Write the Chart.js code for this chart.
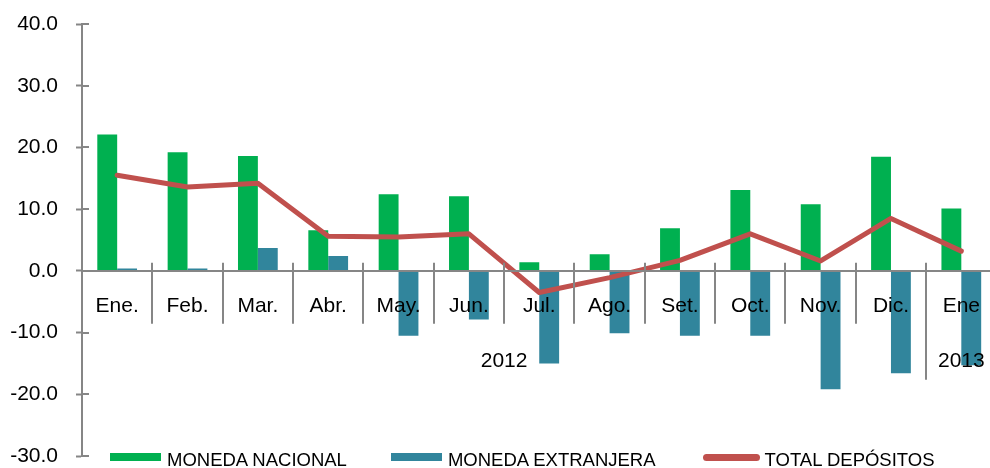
<!DOCTYPE html>
<html>
<head>
<meta charset="utf-8">
<script src="https://cdn.jsdelivr.net/npm/chart.js@4.4.1/dist/chart.umd.min.js"></script>
<style>
  html, body { margin: 0; padding: 0; background: #fff; overflow: hidden; }
  #wrap { position: relative; width: 990px; height: 468px; overflow: hidden; }
  #chart { position: absolute; left: 0; top: 0; }
  #legend {
    position: absolute; left: 110px; top: 450px; display: flex;
    font-family: Arial, "Liberation Sans", sans-serif; font-size: 18.5px; line-height: 20px; color: #000;
  }
  .item { display: flex; align-items: flex-start; margin-right: 44px; white-space: nowrap; }
  .item:nth-child(2) { margin-right: 47px; }
  .swatch { width: 51px; height: 8px; margin-top: 3px; margin-right: 6px; }
  .swatch.line { width: 57px; height: 7px; margin-top: 4px; margin-right: 5px; border-radius: 4px; }
</style>
</head>
<body>
<div id="wrap">
  <canvas id="chart" width="1003" height="468"></canvas>
  <div id="legend"></div>
</div>
<script>
// Depósitos: variación por mes (2012 - Ene 2013)
const months = ["Ene.", "Feb.", "Mar.", "Abr.", "May.", "Jun.", "Jul.", "Ago.", "Set.", "Oct.", "Nov.", "Dic.", "Ene"];
const monedaNacional = [22.1, 19.2, 18.6, 6.6, 12.4, 12.1, 1.4, 2.7, 6.9, 13.1, 10.8, 18.5, 10.1];
const monedaExtranjera = [0.4, 0.4, 3.7, 2.4, -10.5, -7.9, -15.0, -10.1, -10.5, -10.5, -19.2, -16.6, -15.3];
const totalDepositos = [15.5, 13.6, 14.2, 5.6, 5.5, 6.0, -3.5, -1.1, 1.7, 6.0, 1.6, 8.5, 3.2];
const yearLabels = ["2012", "2013"];
const yearSpans = [12, 1];

const FONT = "Arial, 'Liberation Sans', sans-serif";
const GRAY = "#868686";

// separators under the zero line, year labels, inner y ticks
const axisMarks = {
    id: "axisMarks",
    afterDraw(chart) {
        const ctx = chart.ctx;
        const x = chart.scales.x;
        const y = chart.scales.y;
        const y0 = y.getPixelForValue(0);
        ctx.save();
        ctx.strokeStyle = GRAY;
        ctx.lineWidth = 2;

        // y ticks go a bit into the plot too
        y.ticks.forEach(t => {
            const py = Math.round(y.getPixelForValue(t.value));
            ctx.beginPath();
            ctx.moveTo(x.left, py);
            ctx.lineTo(x.left + 7, py);
            ctx.stroke();
        });

        const yearEnds = [];
        let acc = 0;
        yearSpans.forEach(s => { acc += s; yearEnds.push(acc); });

        for (let i = 1; i < months.length; i++) {
            const bx = Math.round(x.getPixelForValue(i - 0.5));
            const longOne = yearEnds.includes(i);
            ctx.beginPath();
            ctx.moveTo(bx, y0 - 8);
            ctx.lineTo(bx, y0 + (longOne ? 109 : 53));
            ctx.stroke();
        }

        ctx.fillStyle = "#000";
        ctx.font = "21px " + FONT;
        ctx.textAlign = "center";
        ctx.textBaseline = "middle";
        let start = 0;
        yearLabels.forEach((label, k) => {
            const end = start + yearSpans[k] - 1;
            const cx = (x.getPixelForValue(start) + x.getPixelForValue(end)) / 2;
            ctx.fillText(label, cx, y0 + 90);
            start = end + 1;
        });
        ctx.restore();
    }
};

const chart = new Chart(document.getElementById("chart"), {
    data: {
        labels: months,
        datasets: [
            {
                type: "line",
                label: "TOTAL DEPÓSITOS",
                data: totalDepositos,
                borderColor: "#C0504D",
                backgroundColor: "#C0504D",
                borderWidth: 5,
                pointRadius: 0,
                tension: 0,
                borderJoinStyle: "round",
                borderCapStyle: "round",
                order: 0
            },
            {
                type: "bar",
                label: "MONEDA NACIONAL",
                data: monedaNacional,
                backgroundColor: "#00B050",
                categoryPercentage: 0.565,
                barPercentage: 1,
                order: 1
            },
            {
                type: "bar",
                label: "MONEDA EXTRANJERA",
                data: monedaExtranjera,
                backgroundColor: "#31859C",
                categoryPercentage: 0.565,
                barPercentage: 1,
                order: 2
            }
        ]
    },
    options: {
        responsive: false,
        animation: false,
        devicePixelRatio: 1,
        layout: { padding: { top: 24, bottom: 12, left: 0, right: 0 } },
        plugins: {
            legend: { display: false },
            tooltip: { enabled: false }
        },
        scales: {
            x: {
                position: { y: 0 },
                offset: true,
                afterFit: s => { s.height = 0; },
                border: { display: true, color: GRAY, width: 2, z: 1 },
                grid: { display: false, drawTicks: false },
                ticks: {
                    z: 1,
                    font: { size: 21, family: FONT },
                    color: "#000",
                    padding: 23,
                    maxRotation: 0,
                    autoSkip: false
                }
            },
            y: {
                min: -30,
                max: 40,
                afterFit: s => {
                    s.width = 82;
                    // label padding should not push the plot down
                    s.paddingTop = 0;
                    s.paddingBottom = 0;
                },
                border: { display: true, color: GRAY, width: 2 },
                grid: { drawOnChartArea: false, drawTicks: true, tickLength: 6, tickColor: GRAY, tickWidth: 2 },
                ticks: {
                    stepSize: 10,
                    font: { size: 21, family: FONT },
                    color: "#000",
                    padding: 18,
                    callback: v => v.toFixed(1)
                }
            }
        }
    },
    plugins: [axisMarks]
});

// legend in html so it can sit over the bottom of the plot like in the original
const legendEl = document.getElementById("legend");
[1, 2, 0].forEach(i => {
    const ds = chart.data.datasets[i];
    const item = document.createElement("div");
    item.className = "item";
    const sw = document.createElement("div");
    sw.className = "swatch" + (ds.type === "line" ? " line" : "");
    sw.style.background = ds.type === "line" ? ds.borderColor : ds.backgroundColor;
    const txt = document.createElement("span");
    txt.textContent = ds.label;
    item.appendChild(sw);
    item.appendChild(txt);
    legendEl.appendChild(item);
});
</script>
</body>
</html>
